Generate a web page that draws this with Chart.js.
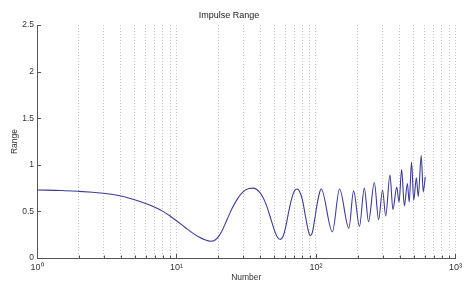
<!DOCTYPE html>
<html>
<head>
<meta charset="utf-8">
<script src="https://cdn.jsdelivr.net/npm/chart.js@4.4.1/dist/chart.umd.min.js"></script>
<style>
  body { margin: 0; background: #fff; }
</style>
</head>
<body>
<canvas id="range" width="466" height="284"></canvas>
<script>
//  Impulse range plot

// values
const numbers = [1, 1.5, 2, 2.5, 3, 4, 5, 6, 7, 8, 9, 10, 11.5, 13, 14.5, 16, 17.5, 18.5, 19.5,
  21, 23, 25, 27.5, 30, 33, 35.5, 38, 41, 44, 47, 50, 53, 55.5, 58, 61, 64, 67, 70, 73,
  76, 80, 84, 87.5, 91, 94, 98, 102, 106, 109,
  131, 147.5, 172, 186, 205, 222, 238, 262, 281, 300, 316, 339, 356, 379, 394, 411,
  430, 452, 466, 484, 502, 524, 541, 568, 587, 607];
const ranges = [0.73, 0.725, 0.715, 0.705, 0.695, 0.665, 0.625, 0.585, 0.545, 0.50, 0.45, 0.40, 0.33, 0.27, 0.225, 0.195, 0.18, 0.185, 0.21,
  0.28, 0.41, 0.53, 0.64, 0.71, 0.745, 0.75, 0.73, 0.67, 0.57, 0.44, 0.31, 0.22, 0.20, 0.23, 0.35, 0.51, 0.64, 0.72, 0.74,
  0.72, 0.62, 0.45, 0.31, 0.24, 0.27, 0.42, 0.58, 0.70, 0.74,
  0.28, 0.74, 0.32, 0.72, 0.34, 0.75, 0.39, 0.81, 0.41, 0.73, 0.45, 0.89, 0.52, 0.76, 0.60, 0.95,
  0.56, 0.80, 0.60, 1.03, 0.62, 0.86, 0.66, 1.10, 0.71, 0.87];

const xTicks = [1, 2, 3, 4, 5, 6, 7, 8, 9, 10, 20, 30, 40, 50, 60, 70, 80, 90,
  100, 200, 300, 400, 500, 600, 700, 800, 900, 1000];
const xDecades = [1, 10, 100, 1000];
const xDecadeLabels = ["10\u2070", "10\u00b9", "10\u00b2", "10\u00b3"];
const yTicks = [0, 0.5, 1, 1.5, 2, 2.5];
const yTickLabels = ["0", "0.5", "1", "1.5", "2", "2.5"];

const font = { family: "'Liberation Sans', Arial, sans-serif", size: 8.5 };

// matlab style ticks pointing into the plot
const innerTicks = {
  id: "innerTicks",
  afterDatasetsDraw(chart) {
    const { ctx, chartArea, scales } = chart;
    ctx.save();
    ctx.strokeStyle = "#555";
    ctx.lineWidth = 1;
    ctx.beginPath();
    xTicks.forEach((v) => {
      const px = Math.round(scales.x.getPixelForValue(v)) + 0.5;
      const len = xDecades.includes(v) ? 4 : 2.5;
      ctx.moveTo(px, chartArea.bottom);
      ctx.lineTo(px, chartArea.bottom - len);
    });
    yTicks.forEach((v) => {
      const py = Math.round(scales.y.getPixelForValue(v)) + 0.5;
      ctx.moveTo(chartArea.left, py);
      ctx.lineTo(chartArea.left + 4, py);
    });
    ctx.stroke();
    ctx.restore();
  },
};

new Chart(document.getElementById("range"), {
  type: "line",
  data: {
    datasets: [
      {
        data: numbers.map((n, i) => ({ x: n, y: ranges[i] })),
        borderColor: "#3c3c9c",
        borderWidth: 1.1,
        pointRadius: 0,
        cubicInterpolationMode: "monotone",
        fill: false,
      },
    ],
  },
  options: {
    responsive: false,
    animation: false,
    devicePixelRatio: 1,
    layout: { padding: { left: 0, right: 8, top: 0, bottom: 0 } },
    plugins: {
      legend: { display: false },
      tooltip: { enabled: false },
      title: {
        display: true,
        text: "Impulse Range",
        color: "#222",
        font: { family: font.family, size: 9, weight: "normal" },
        padding: { top: 10, bottom: 4.2 },
      },
    },
    scales: {
      x: {
        type: "logarithmic",
        min: 1,
        max: 1000,
        afterBuildTicks: (scale) => {
          scale.ticks = xTicks.map((v) => ({ value: v, major: xDecades.includes(v) }));
        },
        afterFit: (scale) => {
          scale.height = 26;
        },
        ticks: {
          autoSkip: false,
          maxRotation: 0,
          padding: 4,
          color: "#333",
          font: { family: font.family, size: 9 },
          callback: (v) => {
            const i = xDecades.indexOf(v);
            return i >= 0 ? xDecadeLabels[i] : "";
          },
        },
        grid: {
          color: "#c4c4c4",
          lineWidth: 1,
          drawTicks: false,
        },
        border: { display: true, color: "#555", width: 1, dash: [1, 2] },
        title: {
          display: true,
          text: "Number",
          color: "#333",
          font: font,
          padding: { top: 0, bottom: 1.2 },
        },
      },
      y: {
        min: 0,
        max: 2.5,
        afterBuildTicks: (scale) => {
          scale.ticks = yTicks.map((v) => ({ value: v }));
        },
        afterFit: (scale) => {
          scale.width = 37;
        },
        ticks: {
          padding: 3,
          color: "#333",
          font: font,
          callback: (v) => yTickLabels[yTicks.indexOf(v)],
        },
        grid: { display: false, drawTicks: false },
        border: { display: true, color: "#555", width: 1 },
        title: {
          display: true,
          text: "Range",
          color: "#333",
          font: font,
          padding: { top: 10, bottom: 0 },
        },
      },
    },
  },
  plugins: [innerTicks],
});
</script>
</body>
</html>
